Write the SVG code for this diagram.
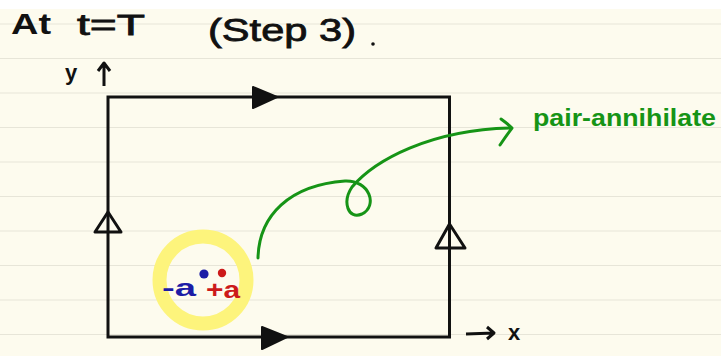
<svg xmlns="http://www.w3.org/2000/svg" width="721" height="356" viewBox="0 0 721 356">
<defs>
<style>
.rule{stroke:#e7e5d8;stroke-width:1.2}
.edge{fill:none;stroke:#111;stroke-width:3;stroke-linejoin:miter}
.hollow{fill:none;stroke:#111;stroke-width:3;stroke-linejoin:round}
.solid{fill:#111;stroke:#111;stroke-width:2;stroke-linejoin:round}
.hand{font-family:"Liberation Sans","DejaVu Sans",sans-serif;fill:#111}
.green{fill:none;stroke:#169416;stroke-width:3;stroke-linecap:round;stroke-linejoin:round}
</style>
</defs>
<rect x="0" y="0" width="721" height="356" fill="#ffffff"/>
<rect x="0" y="9" width="721" height="347" fill="#fdfbee"/>
<g id="rules">
<line class="rule" x1="0" y1="24" x2="721" y2="24"/>
<line class="rule" x1="0" y1="58.5" x2="721" y2="58.5"/>
<line class="rule" x1="0" y1="93" x2="721" y2="93"/>
<line class="rule" x1="0" y1="127.5" x2="721" y2="127.5"/>
<line class="rule" x1="0" y1="162" x2="721" y2="162"/>
<line class="rule" x1="0" y1="196.5" x2="721" y2="196.5"/>
<line class="rule" x1="0" y1="231" x2="721" y2="231"/>
<line class="rule" x1="0" y1="265.5" x2="721" y2="265.5"/>
<line class="rule" x1="0" y1="300" x2="721" y2="300"/>
<line class="rule" x1="0" y1="334.5" x2="721" y2="334.5"/>
</g>
<g id="title">
<text class="hand" x="11" y="34" font-size="30" font-weight="bold" textLength="40" lengthAdjust="spacingAndGlyphs">At</text>
<text class="hand" x="77" y="35" font-size="30" textLength="68" lengthAdjust="spacingAndGlyphs" stroke="#111" stroke-width="0.8">t=T</text>
<text class="hand" x="208" y="41" font-size="32" textLength="148" lengthAdjust="spacingAndGlyphs" stroke="#111" stroke-width="0.8">(Step 3)</text>
<circle cx="373" cy="44" r="1.8" fill="#111"/>
</g>
<g id="axis-y">
<text class="hand" x="65" y="80" font-size="22" font-weight="bold">y</text>
<path class="hollow" d="M104,86 L104,64 M98,71 L104,63 L110,71"/>
</g>
<g id="axis-x">
<path class="hollow" d="M466,334 L494,333 M487,327 L494,333 L487,339"/>
<text class="hand" x="508" y="340" font-size="22" font-weight="bold">x</text>
</g>
<g id="loop">
<rect class="edge" x="108" y="97" width="341.5" height="240"/>
</g>
<g id="connectors">
<path class="solid" d="M253,87 L277,97 L253,108 Z"/>
<path class="solid" d="M262,327 L287,337 L262,349 Z"/>
<path class="hollow" d="M108,212 L95,232 L121,232 Z"/>
<path class="hollow" d="M449.5,224 L436,248 L465,248 Z"/>
<path class="green" d="M258,258 C259,215 290,185 345,181 C370,180 378,206 362,214 C348,220 342,202 352,187 C375,160 430,130 510,128"/>
<path class="green" d="M501,119 Q508,124 512,128 Q506,136 500,145"/>
</g>
<g id="pair">
<circle cx="203" cy="280" r="43.5" fill="none" stroke="#fdf47c" stroke-width="14"/>
<circle cx="204" cy="274" r="4.6" fill="#1c1ca6"/>
<circle cx="222" cy="273" r="4.2" fill="#cc1a1a"/>
<text x="162" y="296" font-family="Liberation Sans, DejaVu Sans, sans-serif" font-size="24" font-weight="bold" fill="#1c1ca6" textLength="34" lengthAdjust="spacingAndGlyphs">-a</text>
<text x="206" y="298" font-family="Liberation Sans, DejaVu Sans, sans-serif" font-size="24" font-weight="bold" fill="#cc1a1a" textLength="34" lengthAdjust="spacingAndGlyphs">+a</text>
</g>
<g id="label">
<text x="533" y="126" font-family="Liberation Sans, DejaVu Sans, sans-serif" font-size="24" font-weight="bold" fill="#169416" textLength="183" lengthAdjust="spacingAndGlyphs">pair-annihilate</text>
</g>
</svg>
